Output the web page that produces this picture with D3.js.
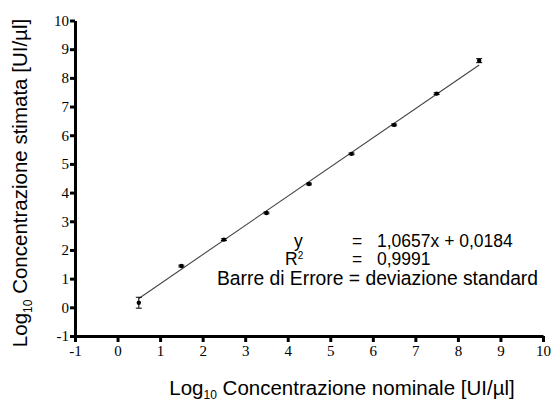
<!DOCTYPE html>
<html>
<head>
<meta charset="utf-8">
<script src="https://cdn.jsdelivr.net/npm/d3@7"></script>
<style>
  body { margin: 0; background: #fff; }
  svg { display: block; }
  .axis path.domain, .axis .tick line { stroke: #000; stroke-width: 3px; }
  .axis .tick text { fill: #000; font-family: "Liberation Serif", "Times New Roman", serif; font-size: 15px; }
</style>
</head>
<body>
<div id="chart"></div>
<script>
// nominal vs estimated log10 concentration
const xNominal = [0.5, 1.5, 2.5, 3.5, 4.5, 5.5, 6.5, 7.5, 8.5];
const yEstimated = [0.16, 1.44, 2.36, 3.29, 4.30, 5.35, 6.36, 7.45, 8.60];
const ySd = [0.19, 0.03, 0.03, 0.03, 0.03, 0.03, 0.03, 0.03, 0.07];
const fitX = [0.5, 8.5];
const fitY = [0.31, 8.45];
const tickValues = [-1, 0, 1, 2, 3, 4, 5, 6, 7, 8, 9, 10];

const width = 553, height = 403;

const svg = d3.select('#chart').append('svg')
    .attr('width', width)
    .attr('height', height);

const x = d3.scaleLinear().domain([-1, 10]).range([75, 543]);
const y = d3.scaleLinear().domain([-1, 10]).range([336, 20.5]);

const fmt = d => String(d); // plain hyphen for negatives

// axes
svg.append('g')
    .attr('class', 'axis')
    .attr('transform', `translate(0,${y(-1)})`)
    .call(d3.axisBottom(x).tickValues(tickValues).tickFormat(fmt)
        .tickSize(6).tickSizeOuter(0).tickPadding(3));

svg.append('g')
    .attr('class', 'axis')
    .attr('transform', `translate(${x(-1)},0)`)
    .call(d3.axisLeft(y).tickValues(tickValues).tickFormat(fmt)
        .tickSize(5).tickSizeOuter(0).tickPadding(1));

// fitted line
svg.append('line')
    .attr('x1', x(fitX[0])).attr('y1', y(fitY[0]))
    .attr('x2', x(fitX[1])).attr('y2', y(fitY[1]))
    .attr('stroke', '#444')
    .attr('stroke-width', 1.1);

const pts = xNominal.map((v, i) => ({x: v, y: yEstimated[i], sd: ySd[i]}));

// error bars
const eb = svg.append('g').selectAll('g')
    .data(pts)
    .enter().append('g')
    .attr('stroke', '#000')
    .attr('stroke-width', 1);
eb.append('line')
    .attr('x1', d => x(d.x)).attr('x2', d => x(d.x))
    .attr('y1', d => y(d.y - d.sd)).attr('y2', d => y(d.y + d.sd));
eb.append('line')
    .attr('x1', d => x(d.x) - 3).attr('x2', d => x(d.x) + 3)
    .attr('y1', d => y(d.y + d.sd)).attr('y2', d => y(d.y + d.sd));
eb.append('line')
    .attr('x1', d => x(d.x) - 3).attr('x2', d => x(d.x) + 3)
    .attr('y1', d => y(d.y - d.sd)).attr('y2', d => y(d.y - d.sd));

svg.append('g').selectAll('circle')
    .data(pts)
    .enter().append('circle')
    .attr('cx', d => x(d.x))
    .attr('cy', d => y(d.y))
    .attr('r', 2.2)
    .attr('fill', '#000');

// annotation
const sans = 'Arial, "Liberation Sans", sans-serif';
const note = svg.append('g')
    .style('font-family', sans)
    .style('font-size', '17.5px')
    .attr('fill', '#000');

note.append('text').attr('x', 294).attr('y', 247).text('y');
note.append('text').attr('x', 352).attr('y', 247).text('=');
note.append('text').attr('x', 377).attr('y', 247).text('1,0657x + 0,0184');

const r2 = note.append('text').attr('x', 285).attr('y', 265);
r2.append('tspan').text('R');
r2.append('tspan').attr('dy', -6).style('font-size', '10px').text('2');
note.append('text').attr('x', 352).attr('y', 265).text('=');
note.append('text').attr('x', 377).attr('y', 265).text('0,9991');

note.append('text').attr('x', 217).attr('y', 285)
    .style('font-size', '19.3px')
    .text('Barre di Errore = deviazione standard');

// axis titles
const xt = svg.append('text')
    .attr('x', 342).attr('y', 395)
    .attr('text-anchor', 'middle')
    .style('font-family', sans)
    .style('font-size', '20.5px')
    .attr('fill', '#000');
xt.append('tspan').text('Log');
xt.append('tspan').attr('dy', 4).style('font-size', '12px').text('10');
xt.append('tspan').attr('dy', -4).text(' Concentrazione nominale [UI/µl]');

const yt = svg.append('text')
    .attr('transform', 'translate(27,183) rotate(-90)')
    .attr('text-anchor', 'middle')
    .style('font-family', sans)
    .style('font-size', '20.5px')
    .attr('fill', '#000');
yt.append('tspan').text('Log');
yt.append('tspan').attr('dy', 5).style('font-size', '12px').text('10');
yt.append('tspan').attr('dy', -5).text(' Concentrazione stimata [UI/µl]');
</script>
</body>
</html>
